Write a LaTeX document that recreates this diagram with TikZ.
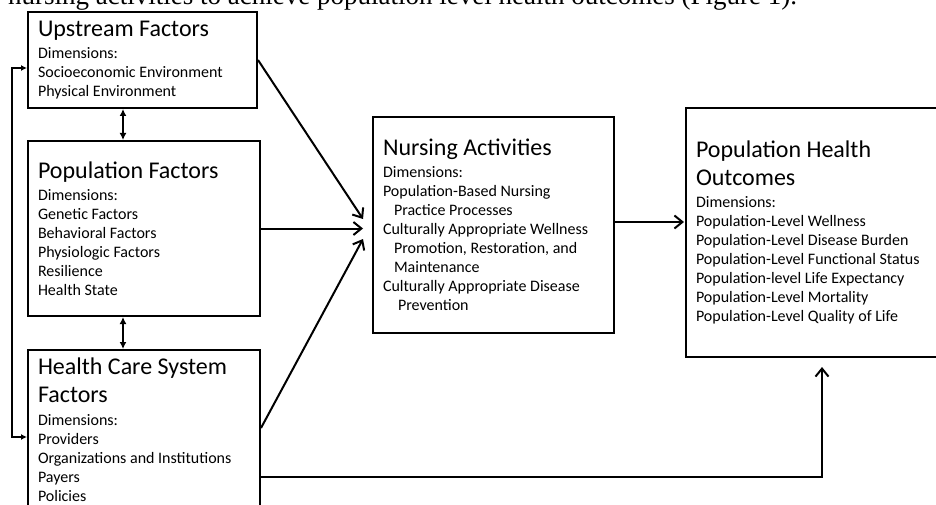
\documentclass[tikz,border=0pt]{standalone}
\usepackage{fontspec}
\setmainfont{Carlito}
\newfontfamily\introfont{Liberation Serif}
\usetikzlibrary{arrows.meta,calc}
\newcommand{\boxhead}[1]{{\fontsize{24}{28}\selectfont #1\par}\vspace{3.5pt}}
\tikzset{
  factor/.style={draw, line width=2pt, anchor=north west, align=flush left,
    inner xsep=10pt, inner ysep=8pt, font=\fontsize{16}{19}\selectfont},
  flow/.style={line width=2pt, -{Straight Barb[length=8pt,width=13pt]}},
  link/.style={line width=2pt, {Latex[length=7pt,width=7pt]}-{Latex[length=7pt,width=7pt]}},
  feedback/.style={line width=2pt, {Latex[length=6pt,width=6pt]}-{Latex[length=6pt,width=6pt]}},
}
\begin{document}
\begin{tikzpicture}[x=1pt,y=-1pt]
\useasboundingbox (0,0) rectangle (936,505);
\node[anchor=base west, inner sep=0pt, font=\introfont\fontsize{27}{30}\selectfont] (intro) at (8,5)
  {nursing activities to achieve population level health outcomes (Figure 1).};
% factor boxes
\node[factor, text width=209pt, minimum height=96pt] (upstream) at (27,11)
  {\boxhead{Upstream Factors}Dimensions:\\Socioeconomic Environment\\Physical Environment};
\node[factor, text width=212pt, minimum height=175pt] (popf) at (27,140)
  {\boxhead{Population Factors}Dimensions:\\Genetic Factors\\Behavioral Factors\\Physiologic Factors\\Resilience\\Health State};
\node[factor, text width=212pt] (hcs) at (27,349)
  {\boxhead{Health Care System\\Factors}Dimensions:\\Providers\\Organizations and Institutions\\Payers\\Policies};
% nursing and outcomes
\node[factor, text width=221pt, minimum height=216pt] (nursing) at (372,116)
  {\boxhead{Nursing Activities}Dimensions:\\Population-Based Nursing\\\hspace*{11pt}Practice Processes\\
   Culturally Appropriate Wellness\\\hspace*{11pt}Promotion, Restoration, and\\\hspace*{11pt}Maintenance\\
   Culturally Appropriate Disease\\\hspace*{15pt}Prevention};
\node[factor, text width=240pt, minimum height=249pt] (outcomes) at (685,107)
  {\boxhead{Population Health\\Outcomes}Dimensions:\\Population-Level Wellness\\Population-Level Disease Burden\\
   Population-Level Functional Status\\Population-level Life Expectancy\\Population-Level Mortality\\Population-Level Quality of Life};
% arrows into nursing activities
\draw[flow] (upstream.east) -- ($(nursing.west)+(-9,-6)$);
\draw[flow] (popf.east) -- ($(popf.east -| nursing.west)+(-9,0)$);
\draw[flow] ($(hcs.north east)+(0,79)$) -- ($(nursing.west)+(-9,14)$);
\draw[flow] ($(nursing.east)+(0,-3)$) -- ($(nursing.east -| outcomes.west)+(-1,-3)$);
\draw[flow] ($(hcs.north east)+(0,128)$) -| ($(outcomes.south west)+(137,9)$);
% links between factors
\draw[link] ($(upstream.south west)+(96,0)$) -- ($(popf.north west)+(96,0)$);
\draw[link] ($(popf.south west)+(96,0)$) -- ($(hcs.north west)+(96,0)$);
\draw[feedback] ($(upstream.north west)+(0,57)$) -- ++(-15,0) |- ($(hcs.north west)+(0,88)$);
\end{tikzpicture}
\end{document}
